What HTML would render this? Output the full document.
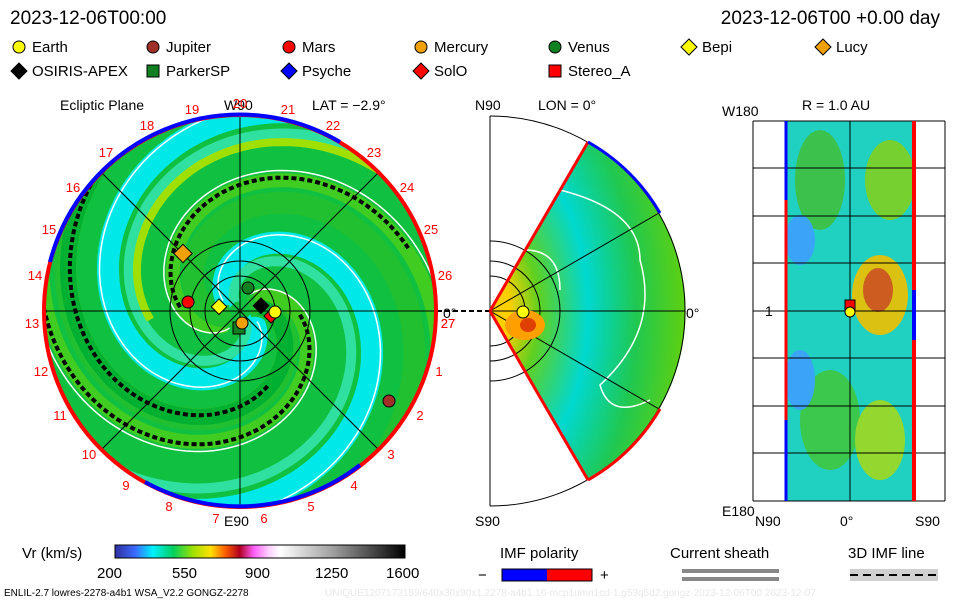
<!DOCTYPE html>
<html><head><meta charset="utf-8"><style>
body{margin:0;background:#fff;}
svg{display:block;font-family:"Liberation Sans",sans-serif;}
</style></head><body>
<svg id="s" width="960" height="600" viewBox="0 0 960 600" xmlns="http://www.w3.org/2000/svg">
<defs>
<linearGradient id="cb" x1="0" x2="1">
<stop offset="0" stop-color="#3030a0"/><stop offset="0.07" stop-color="#3a6aff"/><stop offset="0.13" stop-color="#00f0ff"/><stop offset="0.2" stop-color="#00d060"/><stop offset="0.27" stop-color="#a0e000"/><stop offset="0.33" stop-color="#ffe000"/><stop offset="0.38" stop-color="#ff6000"/><stop offset="0.43" stop-color="#b00020"/><stop offset="0.48" stop-color="#ff60ff"/><stop offset="0.53" stop-color="#ffd0ff"/><stop offset="0.57" stop-color="#ffffff"/><stop offset="0.75" stop-color="#a0a0a0"/><stop offset="1" stop-color="#000"/>
</linearGradient>
<radialGradient id="wg" cx="0" cy="0.5" r="1">
<stop offset="0.1" stop-color="#ffd000"/><stop offset="0.25" stop-color="#60d020"/><stop offset="0.5" stop-color="#00d8d0"/><stop offset="0.75" stop-color="#20c850"/><stop offset="1" stop-color="#60d010"/>
</radialGradient>
<clipPath id="cc"><circle cx="240" cy="311" r="196"/></clipPath>
</defs>
<g font-size="19" fill="#000">
<text x="10" y="24">2023-12-06T00:00</text>
<text x="940" y="24" text-anchor="end">2023-12-06T00 +0.00 day</text>
</g>
<g font-size="15" id="leg"></g>
<g font-size="14">
<text x="60" y="110">Ecliptic Plane</text><text x="224" y="110">W90</text><text x="312" y="110">LAT = −2.9°</text>
<text x="475" y="110">N90</text><text x="538" y="110">LON = 0°</text>
<text x="802" y="110">R = 1.0 AU</text><text x="722" y="116">W180</text>
</g>
<g clip-path="url(#cc)">
<circle cx="240" cy="311" r="196" fill="#10c040"/>
<g id="sp"></g>
</g>
<g stroke="#000" stroke-width="1" fill="none">
<line x1="43" y1="311" x2="437" y2="311"/><line x1="240" y1="115" x2="240" y2="507"/>
<line x1="101" y1="172" x2="379" y2="450"/><line x1="379" y1="172" x2="101" y2="450"/>
<circle cx="240" cy="311" r="35"/><circle cx="240" cy="311" r="50"/><circle cx="240" cy="311" r="70"/>
<line x1="437" y1="311" x2="490" y2="311" stroke-dasharray="5,3" stroke-width="2"/>
</g>
<circle cx="240" cy="311" r="196" fill="none" stroke="#f00" stroke-width="4"/>
<path d="M50,262 A196,196 0 0 1 340,142" fill="none" stroke="#00f" stroke-width="4"/>
<path d="M145,482 A196,196 0 0 0 360,465" fill="none" stroke="#00f" stroke-width="4"/>
<g id="num" font-size="13" fill="#f00"></g>
<text x="443" y="318" font-size="14">0°</text>
<text x="224" y="526" font-size="14">E90</text>
<g stroke="#000" stroke-width="1">
<circle cx="188" cy="302" r="6" fill="#f00"/><circle cx="389" cy="401" r="6" fill="#a03028"/>
<circle cx="248" cy="288" r="6" fill="#108020"/>
<rect x="174" y="248" width="13" height="13" fill="#f0a000" transform="rotate(45 183 257)"/>
<rect x="214" y="301" width="11" height="11" fill="#ff0" transform="rotate(45 219 306)"/>
<rect x="233" y="322" width="12" height="12" fill="#108020"/>
<circle cx="242" cy="323" r="6" fill="#f0a000"/>
<rect x="256" y="300" width="11" height="11" fill="#000" transform="rotate(45 261 305)"/>
<rect x="266" y="311" width="10" height="10" fill="#f00" transform="rotate(45 271 316)"/>
<circle cx="275" cy="312" r="6" fill="#ff0"/>
</g>
<path d="M490,311 L588,142 A195,195 0 0 1 588,480 Z" fill="url(#wg)"/>
<g fill="none" stroke="#fff" stroke-width="1.5">
<path d="M560,190 Q640,210 640,260 Q660,330 600,385 Q610,420 650,400"/>
<path d="M525,250 Q560,250 560,290"/>
</g>
<g stroke="#000" fill="none" stroke-width="1">
<path d="M490,116 A195,195 0 0 1 490,506"/><line x1="490" y1="116" x2="490" y2="506"/>
<line x1="490" y1="311" x2="685" y2="311"/><line x1="490" y1="311" x2="659" y2="213"/><line x1="490" y1="311" x2="659" y2="409"/>
<path d="M490,276 A35,35 0 0 1 490,346"/><path d="M490,261 A50,50 0 0 1 490,361"/><path d="M490,241 A70,70 0 0 1 490,381"/>
</g>
<path d="M490,311 L588,142" stroke="#f00" stroke-width="3"/>
<path d="M490,311 L588,480" stroke="#f00" stroke-width="3"/>
<path d="M588,142 A195,195 0 0 1 660,213" stroke="#00f" stroke-width="3" fill="none"/>
<path d="M660,409 A195,195 0 0 1 588,480" stroke="#f00" stroke-width="3" fill="none"/>
<ellipse cx="525" cy="325" rx="20" ry="15" fill="#ffa000"/><ellipse cx="528" cy="325" rx="8" ry="7" fill="#e04000"/>
<circle cx="523" cy="312" r="6" fill="#ff0" stroke="#000"/>
<text x="686" y="318" font-size="14">0°</text>
<text x="475" y="526" font-size="14">S90</text>
<rect x="785" y="121" width="130" height="380" fill="#20d0c0"/>
<g opacity="0.9">
<ellipse cx="880" cy="295" rx="28" ry="40" fill="#f0c000"/><ellipse cx="878" cy="290" rx="15" ry="22" fill="#e05010"/>
<ellipse cx="820" cy="180" rx="25" ry="50" fill="#40c040"/><ellipse cx="890" cy="180" rx="25" ry="40" fill="#80d020"/>
<ellipse cx="830" cy="420" rx="30" ry="50" fill="#40c840"/><ellipse cx="880" cy="440" rx="25" ry="40" fill="#a0d820"/>
<ellipse cx="800" cy="240" rx="15" ry="25" fill="#40a0ff"/><ellipse cx="800" cy="380" rx="15" ry="30" fill="#40a0ff"/>
</g>
<g stroke="#000" fill="none">
<rect x="785" y="121" width="130" height="380"/>
<line x1="850" y1="121" x2="850" y2="501"/>
<path d="M753,121H945M753,168H945M753,216H945M753,263H945M753,311H945M753,358H945M753,406H945M753,453H945M753,501H945"/>
<path d="M753,121V501M945,121V501"/>
</g>
<line x1="786" y1="121" x2="786" y2="501" stroke="#00f" stroke-width="3"/>
<line x1="914" y1="121" x2="914" y2="501" stroke="#f00" stroke-width="4"/>
<line x1="786" y1="200" x2="786" y2="420" stroke="#f00" stroke-width="3"/>
<line x1="914" y1="290" x2="914" y2="340" stroke="#00f" stroke-width="4"/>
<rect x="845" y="300" width="10" height="10" fill="#f00" stroke="#000"/><circle cx="850" cy="312" r="5" fill="#ff0" stroke="#000"/>
<g font-size="14"><text x="765" y="316">1</text><text x="722" y="516">E180</text><text x="755" y="526">N90</text><text x="840" y="526">0°</text><text x="915" y="526">S90</text></g>
<g font-size="15">
<text x="22" y="558">Vr (km/s)</text>
<text x="97" y="578">200</text><text x="172" y="578">550</text><text x="245" y="578">900</text><text x="315" y="578">1250</text><text x="386" y="578">1600</text>
<text x="500" y="558">IMF polarity</text><text x="478" y="580">−</text><text x="600" y="580">+</text>
<text x="670" y="558">Current sheath</text><text x="848" y="558">3D IMF line</text>
</g>
<rect x="115" y="545" width="290" height="13" fill="url(#cb)" stroke="#000"/>
<rect x="502" y="569" width="45" height="12" fill="#00f"/><rect x="547" y="569" width="45" height="12" fill="#f00"/><rect x="502" y="569" width="90" height="12" fill="none" stroke="#000"/>
<rect x="682" y="569" width="97" height="4" fill="#888"/><rect x="682" y="577" width="97" height="4" fill="#888"/>
<rect x="850" y="569" width="88" height="12" fill="#d0d0d0"/><line x1="850" y1="575" x2="938" y2="575" stroke="#000" stroke-width="2" stroke-dasharray="8,5"/>
<text x="4" y="596" font-size="10">ENLIL-2.7 lowres-2278-a4b1 WSA_V2.2 GONGZ-2278</text>
<text x="325" y="596" font-size="10" fill="#e8e8e8">UNIQUE1207173159/640x30x90x1.2278-a4b1.16-mcp1umn1cd-1.g53q5d2.gongz-2023-12-06T00   2023-12-07</text>
<script>
var NS="http://www.w3.org/2000/svg";
function el(t,a,p){var e=document.createElementNS(NS,t);for(var k in a)e.setAttribute(k,a[k]);if(p!==undefined)e.textContent=p;return e;}
var leg=document.getElementById('leg');
var items=[[12,47,'c','#ff0','Earth'],[146,47,'c','#a03028','Jupiter'],[282,47,'c','#f00','Mars'],[414,47,'c','#f0a000','Mercury'],[548,47,'c','#108020','Venus'],[682,47,'d','#ff0','Bepi'],[816,47,'d','#f0a000','Lucy'],
[12,71,'d','#000','OSIRIS-APEX'],[146,71,'s','#108020','ParkerSP'],[282,71,'d','#00f','Psyche'],[414,71,'d','#f00','SolO'],[548,71,'s','#f00','Stereo_A']];
items.forEach(function(i){var x=i[0]+7,y=i[1];var m;
if(i[2]=='c')m=el('circle',{cx:x,cy:y,r:6,fill:i[3],stroke:'#000'});
else if(i[2]=='s')m=el('rect',{x:x-6,y:y-6,width:12,height:12,fill:i[3],stroke:'#000'});
else m=el('polygon',{points:(x)+','+(y-8)+' '+(x+8)+','+y+' '+x+','+(y+8)+' '+(x-8)+','+y,fill:i[3],stroke:'#000'});
leg.appendChild(m);leg.appendChild(el('text',{x:i[0]+20,y:y+5},i[4]));});
var sp=document.getElementById('sp'),cx=240,cy=311,K=44;
function spiral(th0,col,w,dash,rmin,rmax){var d='';for(var r=rmin;r<=rmax;r+=2){var th=th0+r/K;var x=cx+r*Math.cos(th),y=cy+r*Math.sin(th);d+=(d?'L':'M')+x.toFixed(1)+','+y.toFixed(1);}
var a={d:d,fill:'none',stroke:col,'stroke-width':w};if(dash)a['stroke-dasharray']=dash;sp.appendChild(el('path',a));}
for(var k=0;k<2;k++){var b=k*Math.PI;
spiral(b+0.3,'#00e8e8',22,null,10,270);spiral(b+0.8,'#30e0a0',10,null,10,270);spiral(b-0.7,'#20c030',22,null,10,270);spiral(b+1.9,'#40cc20',14,null,20,270);spiral(b+2.5,'#00b030',16,null,20,270);}
spiral(1.0,'#a0e000',8,null,90,220);
for(var k=0;k<4;k++){spiral(k*Math.PI/2+0.1,'#fff',1.5,null,20,270);}
spiral(-1.3,'#000',4,'5,3',60,215);spiral(-1.3+Math.PI,'#000',4,'5,3',60,180);spiral(-0.6,'#000',4,'5,3',80,200);
var num=document.getElementById('num');
for(var i=0;i<28;i++){var a=-Math.PI/2+(i-20)*2*Math.PI/27;var x=cx+208*Math.cos(a),y=cy+208*Math.sin(a)+5;
num.appendChild(el('text',{x:x.toFixed(0),y:y.toFixed(0),'text-anchor':'middle'},String(i==0?27:i)));}
</script>
</svg>
</body></html>
